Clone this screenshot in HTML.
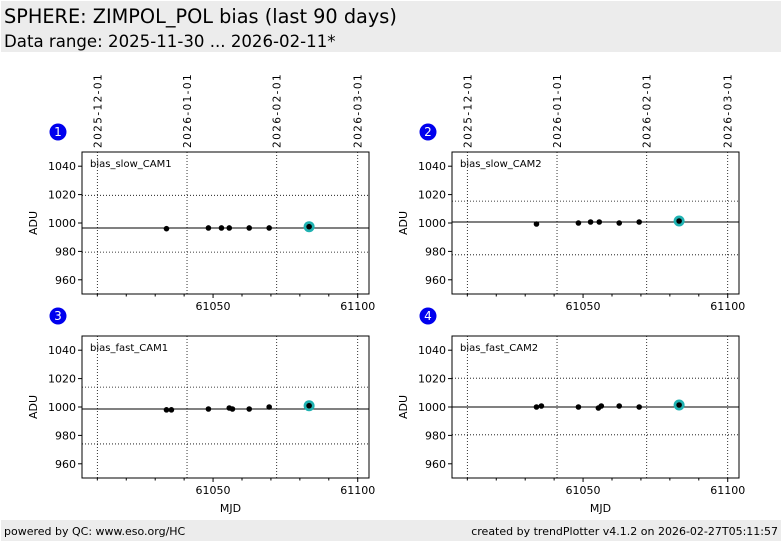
<!DOCTYPE html>
<html><head><meta charset="utf-8">
<style>
body{margin:0;width:782px;height:542px;overflow:hidden;background:#fff;font-family:"DejaVu Sans","Liberation Sans",sans-serif;}
svg text{font-family:"DejaVu Sans","Liberation Sans",sans-serif;}
</style></head>
<body>
<svg id="chart" width="782" height="542" xmlns="http://www.w3.org/2000/svg">
<rect x="1" y="1" width="780" height="51" fill="#ececec"/>
<text x="4" y="23" font-size="19.3" fill="#000">SPHERE: ZIMPOL_POL bias (last 90 days)</text>
<text x="4" y="47" font-size="16.6" fill="#000">Data range: 2025-11-30 ... 2026-02-11*</text>
<rect x="1" y="520" width="780" height="21" fill="#ececec"/>
<text x="4" y="535" font-size="11" fill="#000">powered by QC: www.eso.org/HC</text>
<text x="778" y="535" font-size="11" fill="#000" text-anchor="end">created by trendPlotter v4.1.2 on 2026-02-27T05:11:57</text>
<g id="plots"></g>
</svg>
<script>
const panelNames = ["bias_slow_CAM1","bias_slow_CAM2","bias_fast_CAM1","bias_fast_CAM2"];
const mjd1 = [61033.9,61048.4,61052.9,61055.6,61062.5,61069.4,61083.2];
const val1 = [996,996.5,996.5,996.5,996.5,996.5,997.4];
const mjd2 = [61033.9,61048.4,61052.6,61055.6,61062.5,61069.4,61083.2];
const val2 = [999.3,1000,1000.7,1000.7,1000,1000.7,1001.4];
const mjd3 = [61033.9,61035.6,61048.4,61055.6,61056.7,61062.5,61069.4,61083.2];
const val3 = [998,998,998.6,999.3,998.6,998.6,1000,1000.9];
const mjd4 = [61033.9,61035.6,61048.4,61055.3,61056.3,61062.5,61069.4,61083.2];
const val4 = [1000,1000.7,1000,999.3,1000.7,1000.7,1000,1001.4];
const medians = [996.5,1000.7,998.6,1000];
const upperLims = [1019.5,1015.4,1014,1020.3];
const lowerLims = [979.5,977.6,974,980.4];
const yTicks = [960,980,1000,1020,1040];
const xTicks = [61050,61100];
const xMinorTicks = [61010,61020,61030,61040,61050,61060,61070,61080,61090,61100];
const dateLabels = ["2025-12-01","2026-01-01","2026-02-01","2026-03-01"];
const dateMjd = [61010,61041,61072,61100];

const NS="http://www.w3.org/2000/svg";
const root=document.getElementById('plots');
function mk(tag,attrs,parent){const e=document.createElementNS(NS,tag);for(const k in attrs)e.setAttribute(k,attrs[k]);(parent||root).appendChild(e);return e;}
const XMIN=61004.7,XMAX=61103.9,YMIN=950,YMAX=1050;
const layout=[{x:82,y:152},{x:452,y:152},{x:82,y:336},{x:452,y:336}];
const W=287,H=142;
const mjds=[mjd1,mjd2,mjd3,mjd4], vals=[val1,val2,val3,val4];
for(let p=0;p<4;p++){
  const L=layout[p];
  const sx=v=>L.x+(v-XMIN)/(XMAX-XMIN)*W;
  const sy=v=>L.y+H-(v-YMIN)/(YMAX-YMIN)*H;
  const g=mk('g',{});
  
  
  dateMjd.forEach((m,i)=>{
    const l=mk('line',{x1:sx(m),x2:sx(m),y1:L.y,y2:L.y+H,stroke:'#000','stroke-width':0.8,'stroke-dasharray':'1,2'},g);
    
    
    if(p<2){
      const t=mk('text',{x:0,y:0,'font-size':10.5,'letter-spacing':'1.4',transform:`translate(${sx(m)+4},${L.y-4}) rotate(-90)`},g);
      t.textContent=dateLabels[i];
      
      
    }
  });
  [upperLims[p],lowerLims[p]].forEach(v=>{
    const l=mk('line',{x1:L.x,x2:L.x+W,y1:sy(v),y2:sy(v),stroke:'#000','stroke-width':0.8,'stroke-dasharray':'1,2'},g);
    
    
  });
  const med=mk('line',{x1:L.x,x2:L.x+W,y1:sy(medians[p]),y2:sy(medians[p]),stroke:'#000','stroke-width':1},g);
  
  
  const fr=mk('rect',{x:L.x,y:L.y,width:W,height:H,fill:'none',stroke:'#000','stroke-width':1},g);
  
  
  yTicks.forEach(v=>{
    mk('line',{x1:L.x-4,x2:L.x,y1:sy(v),y2:sy(v),stroke:'#000'},g);
    const t=mk('text',{x:L.x-6,y:sy(v)+4,'font-size':11,'text-anchor':'end'},g);
    t.textContent=v;
    
    
  });
  xMinorTicks.forEach(v=>mk('line',{x1:sx(v),x2:sx(v),y1:L.y+H,y2:L.y+H+(xTicks.includes(v)?4:2.5),stroke:'#000'},g));
  xTicks.forEach(v=>{
    const t=mk('text',{x:sx(v),y:L.y+H+16,'font-size':11,'text-anchor':'middle'},g);
    t.textContent=v;
    
    
  });
  const yl=mk('text',{x:0,y:0,'font-size':11,'text-anchor':'middle',transform:`translate(${L.x-45},${L.y+H/2}) rotate(-90)`},g);
  yl.textContent='ADU';
  
  
  if(p>=2){
    const xl=mk('text',{x:L.x+W/2+5,y:L.y+H+34,'font-size':11,'text-anchor':'middle'},g);
    xl.textContent='MJD';
    
    
  }
  const nm=mk('text',{x:L.x+8,y:L.y+15,'font-size':10},g);
  nm.textContent=panelNames[p];
  
  
  const bc=mk('circle',{cx:L.x-24,cy:L.y-20,r:8.5,fill:'#0000ee'},g);
  
  
  const bt=mk('text',{x:L.x-24,y:L.y-16,'font-size':12,'text-anchor':'middle',fill:'#fff'},g);
  bt.textContent=String(p+1);
  
  
  const ms=mjds[p],vs=vals[p];
  const n=ms.length-1;
  const hl=mk('circle',{cx:sx(ms[n]),cy:sy(vs[n]),r:5.5,fill:'#20b2b2'},g);
  
  
  ms.forEach((m,i)=>{
    const c=mk('circle',{cx:sx(m),cy:sy(vs[i]),r:2.8,fill:'#000'},g);
    
    
  });
}
</script>
</body></html>
